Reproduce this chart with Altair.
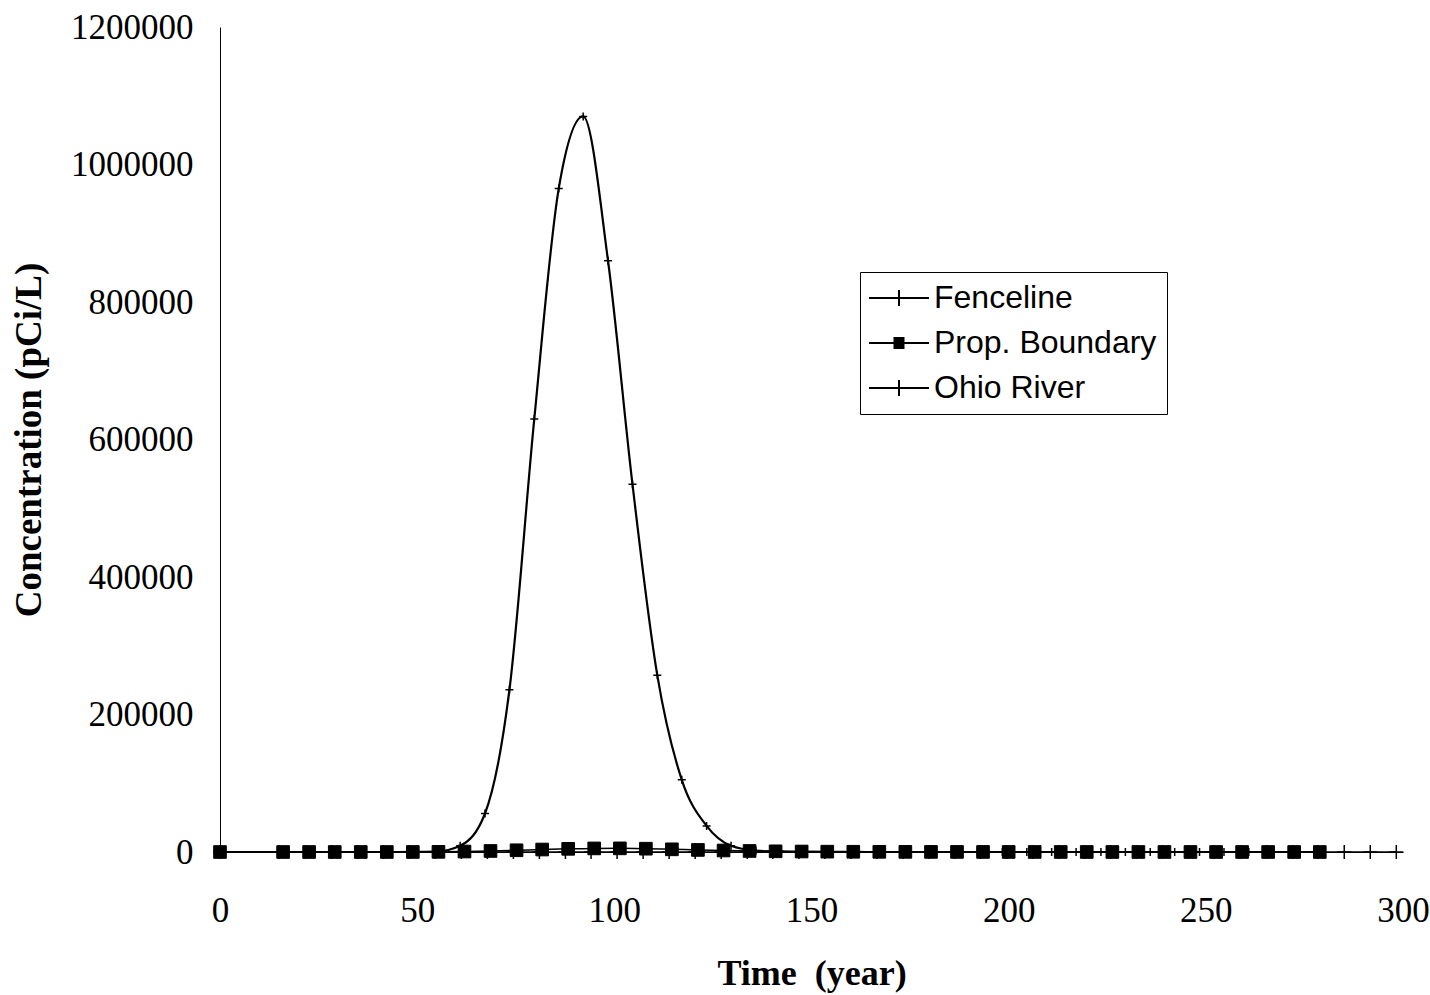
import altair as alt
import pandas as pd

# ---------------- data ----------------
series_names = ["Fenceline", "Prop. Boundary", "Ohio River"]

fence_t = [0, 17.2, 23.4, 29.7, 35.9, 42.2, 48.4, 54.7, 60.9, 67.2, 73.4, 79.7, 85.9,
           92.1, 98.4, 104.6, 110.9, 117.1, 123.4, 129.6, 135.9, 142.1, 148.4, 154.6,
           160.9, 167.1, 173.4, 179.6, 185.9, 192.1, 198.4, 204.6, 210.9, 217.1, 223.4,
           229.6, 235.9, 242.1, 248.4, 254.6, 260.9, 267.1, 273.4, 279.6]
fence_c = [0, 0, 0, 0, 0, 10, 60, 500, 9000, 56000, 236000, 630000, 965000,
           1070000, 860000, 535000, 257000, 105000, 38000, 9000, 2000, 600, 200, 80,
           40, 20, 10, 5, 3, 2, 1, 1, 1, 0, 0,
           0, 0, 0, 0, 0, 0, 0, 0, 0]

prop_t = [0, 16.0, 22.6, 29.1, 35.7, 42.3, 48.9, 55.4, 62.0, 68.6, 75.2, 81.7, 88.3,
          94.9, 101.4, 108.0, 114.6, 121.2, 127.7, 134.3, 140.9, 147.5, 154.0, 160.6,
          167.2, 173.8, 180.3, 186.9, 193.5, 200.0, 206.6, 213.2, 219.8, 226.3, 232.9,
          239.5, 246.1, 252.6, 259.2, 265.8, 272.4, 278.9]
prop_c = [0, 0, 0, 0, 0, 0, 50, 200, 700, 1500, 2500, 3600, 4600,
          5200, 5300, 4800, 3900, 3000, 2200, 1500, 1000, 700, 500, 350,
          250, 180, 130, 100, 80, 60, 50, 40, 30, 25, 20,
          15, 12, 10, 8, 6, 5, 4]

ohio_t = [0, 15.1, 21.7, 28.3, 34.9, 41.5, 48.0, 54.6, 61.2, 67.8, 74.4, 81.0, 87.6,
          94.1, 100.7, 107.3, 113.9, 120.5, 127.1, 133.7, 140.2, 146.8, 153.4, 160.0,
          166.6, 173.2, 179.8, 186.3, 192.9, 199.5, 206.1, 212.7, 219.3, 225.9, 232.4,
          239.0, 245.6, 252.2, 258.8, 265.4, 272.0, 278.5, 285.1, 291.7, 298.3]
ohio_c = [0, 0, 0, 0, 0, 0, 0, 1, 5, 15, 30, 50, 70,
          85, 90, 85, 75, 60, 48, 38, 30, 24, 19, 15,
          12, 10, 8, 7, 6, 5, 4, 4, 3, 3, 2,
          2, 2, 2, 1, 1, 1, 1, 1, 1, 1]

x_ticks = [0, 50, 100, 150, 200, 250, 300]
y_ticks = [0, 200000, 400000, 600000, 800000, 1000000, 1200000]

# ---------------- frames ----------------
df_f = pd.DataFrame({"t": fence_t, "c": fence_c})
df_p = pd.DataFrame({"t": prop_t, "c": prop_c})
df_o = pd.DataFrame({"t": ohio_t, "c": ohio_c})
df_leg = pd.DataFrame({"series": series_names, "t": [-50] * 3, "c": [0] * 3})

SERIF = "Liberation Serif"
SANS = "Liberation Sans"

X = alt.X("t:Q",
          scale=alt.Scale(domain=[0, 300], nice=False, zero=False),
          axis=alt.Axis(values=x_ticks, title="Time \u00a0(year)", grid=False, ticks=False,
                        labelFont=SERIF, labelFontSize=35, labelColor="black", labelPadding=41,
                        labelFlush=False, domainColor="black", domainWidth=1,
                        titleFont=SERIF, titleFontSize=36, titleFontWeight="bold",
                        titleColor="black", titlePadding=28))
Y = alt.Y("c:Q",
          scale=alt.Scale(domain=[0, 1200000], nice=False),
          axis=alt.Axis(values=y_ticks, format="d", title="Concentration (pCi/L)", grid=False,
                        ticks=False, labelFont=SERIF, labelFontSize=35, labelColor="black",
                        labelPadding=27, domainColor="black", domainWidth=1,
                        titleFont=SERIF, titleFontSize=37, titleFontWeight="bold",
                        titleColor="black", titlePadding=22))

PLUS = "M-1,0L1,0M0,-1L0,1"

ohio_line = alt.Chart(df_o).mark_line(color="black", strokeWidth=1.5).encode(x=X, y=Y)
prop_line = alt.Chart(df_p).mark_line(color="black", strokeWidth=1.5, interpolate="monotone").encode(x=X, y=Y)
fence_line = alt.Chart(df_f).mark_line(color="black", strokeWidth=2.2, interpolate="monotone").encode(x=X, y=Y)

fence_pts = alt.Chart(df_f).mark_point(shape=PLUS, size=64, stroke="black", strokeWidth=1.5,
                                       fill=None, opacity=1).encode(x=X, y=Y)
prop_pts = alt.Chart(df_p).mark_point(shape="square", size=160, fill="black", stroke="black",
                                      strokeWidth=1, opacity=1).encode(x=X, y=Y)
ohio_pts = alt.Chart(df_o).mark_point(shape=PLUS, size=196, stroke="black", strokeWidth=1.5,
                                      fill=None, opacity=1).encode(x=X, y=Y)

# legend symbols: a line with the series marker (square drawn with dense strokes)
leg_paths = [
    "M-3,0L3,0M0,-0.8L0,0.8",
    "M-3,0L3,0M-0.55,-0.5L0.55,-0.5M-0.55,-0.3L0.55,-0.3M-0.55,-0.1L0.55,-0.1"
    "M-0.55,0.1L0.55,0.1M-0.55,0.3L0.55,0.3M-0.55,0.5L0.55,0.5",
    "M-3,0L3,0M0,-0.8L0,0.8",
]

legend_layer = alt.Chart(df_leg).mark_point(filled=False, color="black", strokeWidth=2,
                                            opacity=1, clip=True).encode(
    x=X, y=Y,
    shape=alt.Shape("series:N",
                    scale=alt.Scale(domain=series_names, range=leg_paths),
                    legend=alt.Legend(title=None, orient="none", legendX=640, legendY=245,
                                      symbolSize=400, symbolStrokeWidth=2,
                                      symbolStrokeColor="black",
                                      labelFont=SANS, labelFontSize=32, labelColor="black",
                                      labelLimit=500,
                                      strokeColor="black", fillColor="white", padding=10,
                                      rowPadding=13, symbolOffset=13, labelOffset=19))
)

chart = alt.layer(ohio_line, prop_line, fence_line, fence_pts, prop_pts, ohio_pts, legend_layer).properties(
    width=1183, height=825,
    padding={"left": 220, "top": 27, "right": 27, "bottom": 143},
    autosize="none",
    background="white",
).configure_view(stroke=None)

chart.save("out.html", embed_options={"renderer": "svg", "actions": False})
